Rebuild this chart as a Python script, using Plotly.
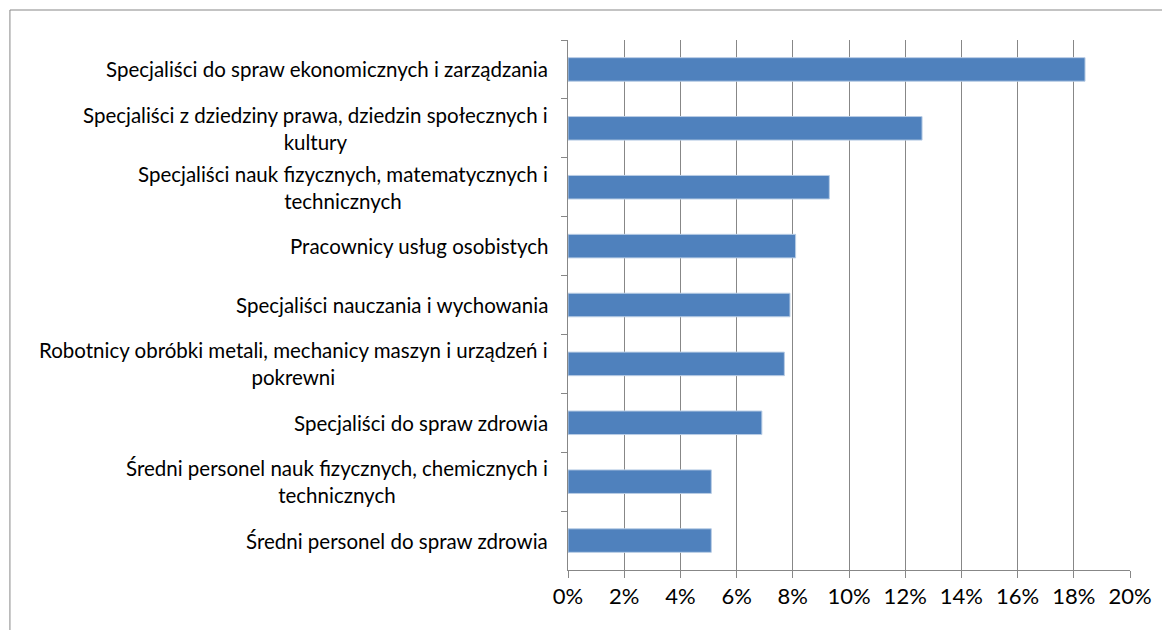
import plotly.graph_objects as go

# Occupational groups (top to bottom) and their shares
categories = [
    "Specjaliści do spraw ekonomicznych i zarządzania",
    "Specjaliści z dziedziny prawa, dziedzin społecznych i<br>kultury",
    "Specjaliści nauk fizycznych, matematycznych i<br>technicznych",
    "Pracownicy usług osobistych",
    "Specjaliści nauczania i wychowania",
    "Robotnicy obróbki metali, mechanicy maszyn i urządzeń i<br>pokrewni",
    "Specjaliści do spraw zdrowia",
    "Średni personel nauk fizycznych, chemicznych i<br>technicznych",
    "Średni personel do spraw zdrowia",
]
shares = [0.184, 0.126, 0.093, 0.081, 0.079, 0.077, 0.069, 0.051, 0.051]
x_ticks = [0, 0.02, 0.04, 0.06, 0.08, 0.10, 0.12, 0.14, 0.16, 0.18, 0.20]

axis_grey = "#878787"
bar_blue = "#4F81BD"

fig = go.Figure(
    go.Bar(
        x=shares,
        y=categories,
        orientation="h",
        marker=dict(color=bar_blue, line=dict(color="#B9CDE5", width=1)),
        hoverinfo="x+y",
    )
)

# category labels as centred, right-anchored text (Excel style wrapping)
for cat in categories:
    fig.add_annotation(
        x=0, y=cat, xref="x", yref="y",
        text=cat, showarrow=False,
        xanchor="right", yanchor="middle", align="center",
        xshift=-18,
        font=dict(family="Lato", size=20.5, color="#000000"),
    )

# the page body adds an 8px offset, margins compensate for it
fig.update_layout(
    width=1170,
    height=630,
    margin=dict(l=560, r=48, t=32, b=68),
    paper_bgcolor="white",
    plot_bgcolor="white",
    bargap=0.6,
    showlegend=False,
    font=dict(family="Lato", color="#000000"),
    shapes=[
        # outer chart frame
        dict(type="rect", xref="paper", yref="paper",
             x0=-0.993, x1=1.2, y0=-0.3, y1=1.0566,
             line=dict(color=axis_grey, width=1), fillcolor="rgba(0,0,0,0)",
             layer="below"),
    ],
)

fig.update_xaxes(
    range=[0, 0.20],
    tickvals=x_ticks,
    tickformat=".0%",
    showgrid=True,
    gridcolor=axis_grey,
    gridwidth=1,
    showline=True,
    linecolor=axis_grey,
    linewidth=1,
    ticks="outside",
    ticklen=7,
    tickcolor=axis_grey,
    tickfont=dict(family="Lato", size=22, color="#000000"),
    zeroline=False,
)

fig.update_yaxes(
    autorange="reversed",
    showticklabels=False,
    showline=True,
    linecolor=axis_grey,
    linewidth=1,
    ticks="outside",
    tickson="boundaries",
    ticklen=6,
    tickcolor=axis_grey,
    showgrid=False,
)

fig.write_html("out.html")
